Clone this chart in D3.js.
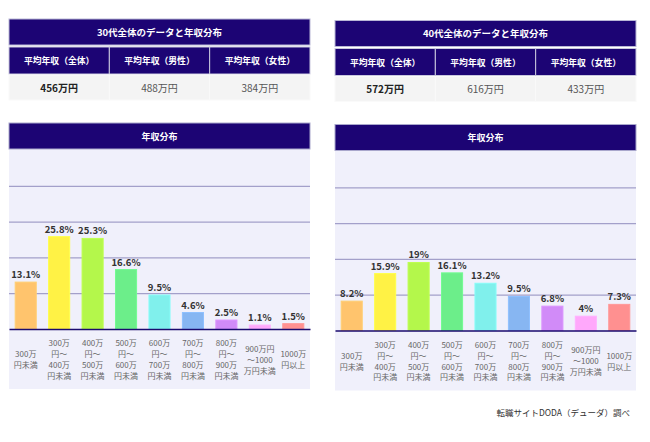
<!DOCTYPE html>
<html>
<head>
<meta charset="utf-8">
<script src="https://cdn.jsdelivr.net/npm/d3@7"></script>
<style>
  body { margin: 0; background: #fff; }
  text { font-family: "Noto Sans CJK JP", "Noto Sans", sans-serif; }
</style>
</head>
<body>
<svg id="chart" width="650" height="442"></svg>
<script>
// 収入区分（x軸ラベル）
let categories = [
  "300万\n円未満",
  "300万\n円〜\n400万\n円未満",
  "400万\n円〜\n500万\n円未満",
  "500万\n円〜\n600万\n円未満",
  "600万\n円〜\n700万\n円未満",
  "700万\n円〜\n800万\n円未満",
  "800万\n円〜\n900万\n円未満",
  "900万円\n〜1000\n万円未満",
  "1000万\n円以上"
];
let values30 = [13.1, 25.8, 25.3, 16.6, 9.5, 4.6, 2.5, 1.1, 1.5];
let values40 = [8.2, 15.9, 19, 16.1, 13.2, 9.5, 6.8, 4, 7.3];
let barColors = ["#ffc46d", "#fff245", "#b4f74b", "#6cee8a", "#80f0ec", "#87b6f2", "#d18bf8", "#ffa8fb", "#ff9090"];
let tableHeaders = ["平均年収（全体）", "平均年収（男性）", "平均年収（女性）"];
let income30 = ["456万円", "488万円", "384万円"];
let income40 = ["572万円", "616万円", "433万円"];
let gridTicks = [10, 20, 30, 40];
let yMax = 50;

let navy = "#1c0474";
let svg = d3.select("#chart");

var drawPanel = function(x0, dy, title, incomes, values) {
  let w = 301;
  let g = svg.append("g").attr("transform", "translate(0," + dy + ")");

  // --- table ---
  g.append("rect")
    .attr("x", x0).attr("y", 19).attr("width", w).attr("height", 26)
    .attr("fill", navy).attr("stroke", "#b9b7d6").attr("stroke-width", 1);
  g.append("text")
    .attr("x", x0 + w / 2).attr("y", 35.5)
    .attr("text-anchor", "middle")
    .attr("fill", "#fff").attr("font-size", 9.5).attr("font-weight", "bold")
    .text(title);

  let colW = w / 3;
  tableHeaders.forEach(function(h, i) {
    g.append("rect")
      .attr("x", x0 + i * colW).attr("y", 47).attr("width", colW).attr("height", 27)
      .attr("fill", navy).attr("stroke", "#c9c8de").attr("stroke-width", 1);
    g.append("text")
      .attr("x", x0 + i * colW + colW / 2).attr("y", 64)
      .attr("text-anchor", "middle")
      .attr("fill", "#fff").attr("font-size", 8.8).attr("font-weight", "bold")
      .text(h);
  });

  incomes.forEach(function(v, i) {
    g.append("rect")
      .attr("x", x0 + i * colW).attr("y", 75).attr("width", colW).attr("height", 25)
      .attr("fill", "#f4f4f4").attr("stroke", "#fafafa").attr("stroke-width", 1);
    g.append("text")
      .attr("x", x0 + i * colW + colW / 2).attr("y", 91.5)
      .attr("text-anchor", "middle")
      .attr("fill", i == 0 ? "#222" : "#555")
      .attr("font-size", 10)
      .attr("font-weight", i == 0 ? "bold" : "normal")
      .text(v);
  });

  // --- chart ---
  g.append("rect")
    .attr("x", x0).attr("y", 149).attr("width", w).attr("height", 240)
    .attr("fill", "#f0f0fb");
  g.append("rect")
    .attr("x", x0).attr("y", 123).attr("width", w).attr("height", 26)
    .attr("fill", navy).attr("stroke", "#a9a7cc").attr("stroke-width", 1);
  g.append("text")
    .attr("x", x0 + w / 2).attr("y", 139.5)
    .attr("text-anchor", "middle")
    .attr("fill", "#fff").attr("font-size", 9).attr("font-weight", "bold")
    .text("年収分布");

  let yScale = d3.scaleLinear().domain([0, yMax]).range([329, 150]);
  let xScale = d3.scaleBand()
    .domain(d3.range(categories.length))
    .range([x0, x0 + w])
    .paddingInner(0.37)
    .paddingOuter(0.185);

  // gridlines
  let grid = g.append("g")
    .attr("transform", "translate(" + x0 + ",0)")
    .call(d3.axisLeft(yScale).tickValues(gridTicks).tickSize(-w).tickFormat(""));
  grid.select(".domain").remove();
  grid.selectAll("line").attr("stroke", "#a3a0ca").attr("stroke-width", 1.3);

  // bars
  g.selectAll("rect.bar")
    .data(values)
    .enter().append("rect")
    .attr("class", "bar")
    .attr("x", function(d, i) { return xScale(i); })
    .attr("y", function(d) { return yScale(d); })
    .attr("width", xScale.bandwidth())
    .attr("height", function(d) { return yScale(0) - yScale(d); })
    .attr("fill", function(d, i) { return barColors[i]; })
    .attr("stroke", function(d, i) { return d3.color(barColors[i]).brighter(0.15); })
    .attr("stroke-width", 1);

  // value labels
  g.selectAll("text.val")
    .data(values)
    .enter().append("text")
    .attr("class", "val")
    .attr("x", function(d, i) { return xScale(i) + xScale.bandwidth() / 2; })
    .attr("y", function(d) { return yScale(d) - 4; })
    .attr("text-anchor", "middle")
    .attr("fill", "#333").attr("font-size", 9.5).attr("font-weight", "bold")
    .text(function(d) { return d + "%"; });

  // x axis with multi-line labels
  let xAxis = g.append("g")
    .attr("transform", "translate(0,329)")
    .call(d3.axisBottom(xScale).tickSize(0).tickSizeOuter(0).tickFormat(""));
  xAxis.select(".domain").attr("stroke", "#1a0a6e").attr("stroke-width", 1.6);
  let lineH = 10.9;
  xAxis.selectAll(".tick text").each(function(i) {
    let lines = categories[i].split("\n");
    let t = d3.select(this)
      .attr("y", 0).attr("dy", null)
      .attr("fill", "#666").attr("font-size", 8);
    let firstY = 30.8 - (lines.length - 1) * lineH / 2 + 2.8;
    lines.forEach(function(l, k) {
      t.append("tspan")
        .attr("x", 0)
        .attr("y", firstY + k * lineH)
        .text(l);
    });
  });
};

drawPanel(9, 0, "30代全体のデータと年収分布", income30, values30);
drawPanel(335, 1.5, "40代全体のデータと年収分布", income40, values40);

svg.append("text")
  .attr("x", 630).attr("y", 416)
  .attr("text-anchor", "end")
  .attr("fill", "#333").attr("font-size", 8.5)
  .text("転職サイトDODA（デューダ）調べ");
</script>
</body>
</html>
